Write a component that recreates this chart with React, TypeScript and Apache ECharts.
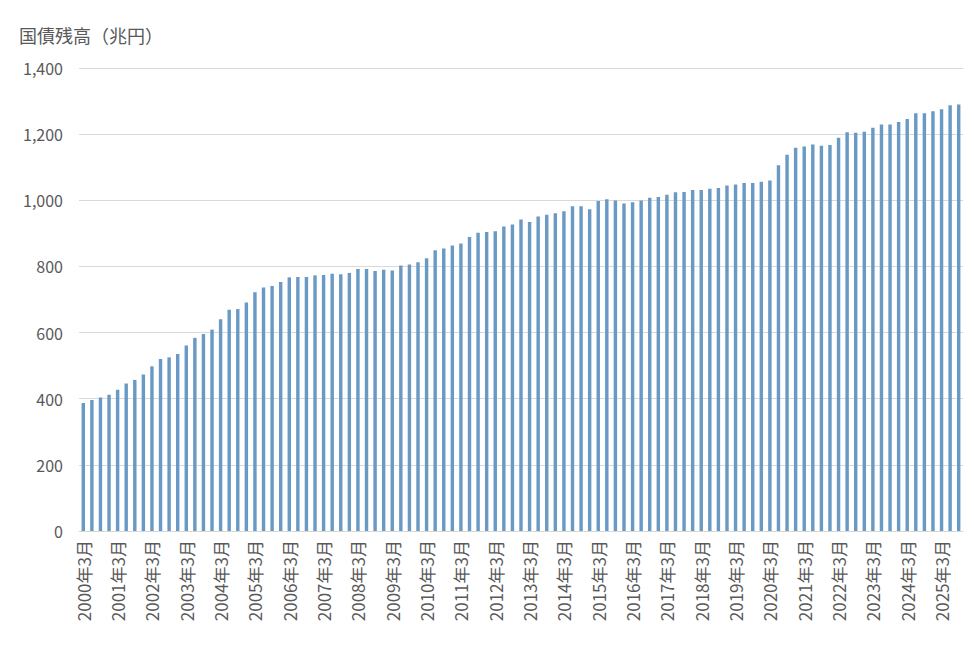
import React, { useEffect, useRef } from 'react';
import * as echarts from 'echarts';

// quarter months, 2000年3月 .. 2025年9月
const months = [3, 6, 9, 12];
const categories: string[] = [];
for (let y = 2000; y <= 2025; y++) {
  for (const m of months) {
    if (y === 2025 && m === 12) break;
    categories.push(`${y}年${m}月`);
  }
}

// 国債残高（兆円）
const debt = [
  387, 396, 404, 412,
  427, 446, 457, 473,
  498, 520, 525, 535,
  561, 584, 596, 609,
  640, 669, 671, 691,
  722, 736, 741, 753,
  767, 768, 768, 773,
  774, 778, 776, 780,
  792, 792, 786, 790,
  788, 803, 806, 813,
  825, 849, 854, 863,
  869, 889, 902, 904,
  906, 921, 927, 942,
  934, 951, 956, 961,
  967, 982, 982, 973,
  998, 1003, 999, 990,
  994, 999, 1008, 1010,
  1017, 1024, 1025, 1031,
  1031, 1035, 1037, 1045,
  1048, 1052, 1052, 1056,
  1060, 1106, 1138, 1159,
  1163, 1169, 1165, 1167,
  1189, 1206, 1204, 1207,
  1219, 1229, 1229, 1237,
  1246, 1263, 1263, 1269,
  1275, 1287, 1290,
];

const yTicks = { min: 0, max: 1400, interval: 200 };

const FONT = '"Noto Sans CJK JP", "Noto Sans", sans-serif';
const TEXT = '#595959';

const DebtChart: React.FC = () => {
  const chartRef = useRef<HTMLDivElement>(null);

  useEffect(() => {
    if (!chartRef.current) return;
    const chart = echarts.init(chartRef.current, undefined, { renderer: 'svg' });

    const option = {
      animation: false,
      textStyle: { fontFamily: FONT },
      title: {
        text: '国債残高（兆円）',
        left: 14,
        top: 21,
        textStyle: { fontSize: 18, fontWeight: 'normal', color: TEXT, fontFamily: FONT },
      },
      grid: { left: 79, right: 11, top: 68, bottom: 118 },
      xAxis: {
        type: 'category',
        data: categories,
        axisLine: { lineStyle: { color: '#d9d9d9' } },
        axisTick: { interval: 3, alignWithLabel: true, length: 6, lineStyle: { color: '#d9d9d9' } },
        axisLabel: {
          interval: 3,
          rotate: 90,
          fontSize: 17,
          color: TEXT,
          fontFamily: FONT,
          margin: 9,
        },
      },
      yAxis: {
        type: 'value',
        min: yTicks.min,
        max: yTicks.max,
        interval: yTicks.interval,
        axisLine: { show: false },
        axisTick: { show: false },
        splitLine: { lineStyle: { color: '#d9d9d9' } },
        axisLabel: {
          fontSize: 16,
          color: TEXT,
          fontFamily: FONT,
          margin: 16,
          formatter: (v: number) => v.toLocaleString('en-US'),
        },
      },
      series: [
        {
          type: 'bar',
          data: debt,
          barCategoryGap: '60%',
          itemStyle: { color: '#6a9ac4' },
        },
      ],
    };

    chart.setOption(option);
    return () => {
      chart.dispose();
    };
  }, []);

  return (
    <div
      ref={chartRef}
      style={{ position: 'fixed', left: 0, top: 0, width: '974px', height: '649px', background: '#fff' }}
    ></div>
  );
};

export default function App() {
  return <DebtChart />;
}
